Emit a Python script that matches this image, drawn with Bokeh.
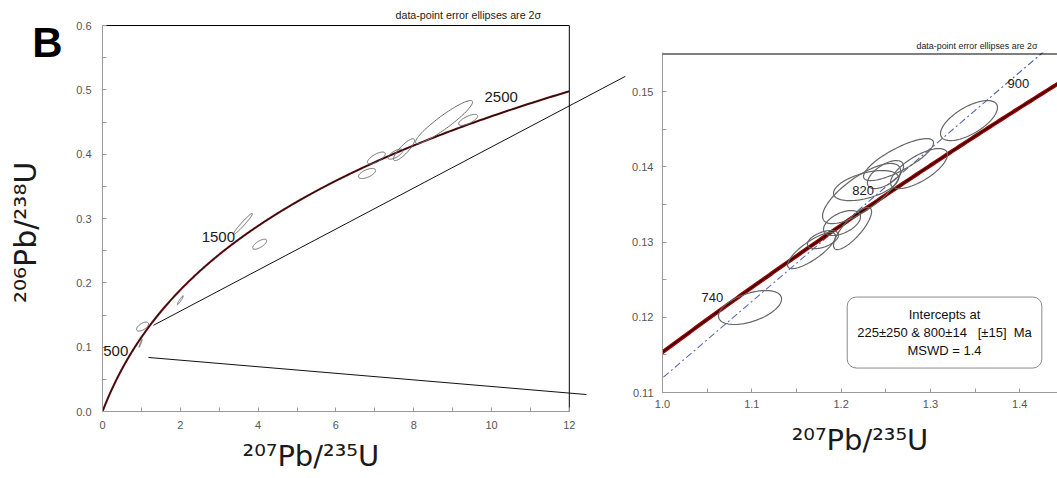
import numpy as np
from bokeh.plotting import figure
from bokeh.layouts import row, column
from bokeh.models import FixedTicker, Label, NumeralTickFormatter, Range1d, Span, LinearAxis, Title
from bokeh.embed import file_html
from bokeh.resources import INLINE

FONT = "Liberation Sans"
LABEL_FONT = "DejaVu Sans"

# decay constants (1/Ma) used for the concordia curve
LAMBDA_235 = 9.8485e-4
LAMBDA_238 = 1.55125e-4

# ---------------- left panel data (2-sigma error ellipses) ----------------
left_x = [0.98, 1.03, 2.00, 3.61, 4.04, 6.80, 7.04, 7.53, 7.75, 8.78, 9.40]
left_y = [0.106, 0.132, 0.173, 0.2916, 0.260, 0.370, 0.394, 0.400, 0.407, 0.450, 0.4533]
left_ex = [0.04, 0.154, 0.077, 0.244, 0.18, 0.22, 0.23, 0.19, 0.27, 0.733, 0.244]
left_ey = [0.0062, 0.007, 0.007, 0.0163, 0.0078, 0.0078, 0.0093, 0.0078, 0.017, 0.0334, 0.0086]
left_rho = [0.95, 0.6, 0.95, 0.97, 0.7, 0.6, 0.7, 0.7, 0.85, 0.93, 0.7]
left_age_labels = [500, 1500, 2500]
# lines linking the left panel to the enlarged panel
zoom_line_x = [[1.31, 13.44], [1.18, 12.44]]
zoom_line_y = [[0.134, 0.521], [0.084, 0.0264]]

# ---------------- right panel data ----------------
right_x = [1.098, 1.2643, 1.2872, 1.3432, 1.2229, 1.2279, 1.2497, 1.201, 1.2128, 1.1797, 1.1669]
right_y = [0.1213, 0.14096, 0.13977, 0.14615, 0.13645, 0.13751, 0.13897, 0.13253, 0.1318, 0.13033, 0.12887]
right_ex = [0.0353, 0.0392, 0.0319, 0.0319, 0.0437, 0.0364, 0.0202, 0.0207, 0.0213, 0.0174, 0.0269]
right_ey = [0.00226, 0.00279, 0.00266, 0.00266, 0.0040, 0.0020, 0.00186, 0.00166, 0.0028, 0.0012, 0.0024]
right_rho = [0.5, 0.8, 0.7, 0.65, 0.75, 0.5, 0.6, 0.5, 0.8, 0.5, 0.8]
right_age_labels = [740, 820, 900]
lower_intercept = 225
upper_intercept = 800
NB = "\u00a0"
intercept_text = ("Intercepts at\n225\u00b1250 & 800\u00b114" + NB * 3 + "[\u00b115]" + NB * 2
                  + "Ma\nMSWD = 1.4")

left_xticks = [0, 2, 4, 6, 8, 10, 12]
left_xminor = [1, 3, 5, 7, 9, 11]
left_yticks = [0.0, 0.1, 0.2, 0.3, 0.4, 0.5, 0.6]
left_yminor = [0.05, 0.15, 0.25, 0.35, 0.45, 0.55]
right_xticks = [1.0, 1.1, 1.2, 1.3, 1.4]
right_xminor = [1.05, 1.15, 1.25, 1.35]
right_yticks = [0.11, 0.12, 0.13, 0.14, 0.15]
right_yminor = [0.115, 0.125, 0.135, 0.145]

XLABEL = "\u00b2\u2070\u2077Pb/\u00b2\u00b3\u2075U"
YLABEL = "\u00b2\u2070\u2076Pb/\u00b2\u00b3\u2078U"
NOTE = "data-point" + NB + "error" + NB + "ellipses" + NB + "are" + NB + "2\u03c3"
PANEL_LETTER = "B"


def concordia(t):
    t = np.asarray(t, dtype=float)
    return np.exp(LAMBDA_235 * t) - 1.0, np.exp(LAMBDA_238 * t) - 1.0


def ellipse(cx, cy, ex, ey, rho, n=90):
    a = np.linspace(0, 2 * np.pi, n)
    xs = cx + ex * np.cos(a)
    ys = cy + ey * (rho * np.cos(a) + np.sqrt(1 - rho ** 2) * np.sin(a))
    return list(xs), list(ys)


def style_axis(ax, ticks, minor, fmt, standoff):
    ax.ticker = FixedTicker(ticks=ticks, minor_ticks=minor)
    if fmt:
        ax.formatter = NumeralTickFormatter(format=fmt)
    ax.axis_line_color = "#9a9a9a"
    ax.major_tick_line_color = "#9a9a9a"
    ax.minor_tick_line_color = "#9a9a9a"
    ax.major_tick_in = 4
    ax.major_tick_out = 0
    ax.minor_tick_in = 4
    ax.minor_tick_out = 0
    ax.major_label_text_font = FONT
    ax.major_label_text_font_size = "11px"
    ax.major_label_text_color = "#555555"
    ax.major_label_standoff = standoff
    ax.axis_label_text_font = LABEL_FONT
    ax.axis_label_text_font_style = "normal"
    ax.axis_label_text_color = "#1a1a1a"
    ax.axis_label_text_font_size = "30px"


# ======================= LEFT FIGURE =======================
pL = figure(width=626, height=478, x_range=Range1d(0, 13.47), y_range=Range1d(0, 0.6016),
            output_backend="svg", toolbar_location=None, title=None,
            min_border_left=102, min_border_right=0, min_border_top=24, min_border_bottom=67)
pL.outline_line_color = None
pL.grid.visible = False
pL.background_fill_color = "white"
pL.border_fill_color = "white"

style_axis(pL.xaxis[0], left_xticks, left_xminor, None, 9)
style_axis(pL.yaxis[0], left_yticks, left_yminor, "0.0", 11)
pL.xaxis[0].bounds = (0, 12)
pL.yaxis[0].bounds = (0, 0.6)

# outer left axis: carries the panel letter and the y-axis title
outer = LinearAxis(ticker=FixedTicker(ticks=[0.573], minor_ticks=[]),
                   major_label_overrides={0.573: PANEL_LETTER})
outer.axis_line_color = None
outer.major_tick_line_color = None
outer.minor_tick_line_color = None
outer.major_label_text_font = FONT
outer.major_label_text_font_style = "bold"
outer.major_label_text_font_size = "42px"
outer.major_label_text_color = "black"
outer.major_label_standoff = 5
outer.axis_label = YLABEL + NB * 3
outer.axis_label_standoff = -14
outer.axis_label_text_font = LABEL_FONT
outer.axis_label_text_font_style = "normal"
outer.axis_label_text_color = "#1a1a1a"
outer.axis_label_text_font_size = "30px"
pL.add_layout(outer, "left")

pL.add_layout(Title(text=XLABEL, align="left", offset=140, standoff=11,
                    text_font=LABEL_FONT, text_font_style="normal", text_font_size="29px",
                    text_color="#1a1a1a"), "below")
pL.add_layout(Title(text=NOTE, align="left", offset=293, standoff=8,
                    text_font=FONT, text_font_style="normal", text_font_size="10.7px",
                    text_color="#222222"), "above")

# box top and right
pL.line(x=[0, 12, 12], y=[0.6, 0.6, 0], line_color="black", line_width=1)

# connecting lines
pL.multi_line(xs=zoom_line_x, ys=zoom_line_y, line_color="#111111", line_width=1)

# concordia curve up to x = 12
t_end = np.log(1 + 12.0) / LAMBDA_235
cx, cy = concordia(np.linspace(0, t_end, 400))
pL.line(cx, cy, line_color="#7a1515", line_width=2.1)
pL.line(cx, cy, line_color="#111111", line_width=1.0)

# ellipses
exs, eys = [], []
for i in range(len(left_x)):
    a, b = ellipse(left_x[i], left_y[i], left_ex[i], left_ey[i], left_rho[i])
    exs.append(a)
    eys.append(b)
pL.patches(xs=exs, ys=eys, fill_color=None, line_color="#6a6a6a", line_width=1)

# age labels
l_off = {500: (1, 9), 1500: (1, 6), 2500: (-2, 10)}
for age in left_age_labels:
    ax_, ay_ = concordia(age)
    dx, dy = l_off[age]
    pL.add_layout(Label(x=float(ax_), y=float(ay_), text=str(age), text_align="right",
                        text_baseline="middle", x_offset=dx, y_offset=dy,
                        text_font=FONT, text_font_size="15px", text_color="#1a1a1a"))

# ======================= RIGHT FIGURE =======================
pR = figure(width=431, height=478, x_range=Range1d(1.0, 1.4423), y_range=Range1d(0.11, 0.1552),
            output_backend="svg", toolbar_location=None, title=None,
            min_border_left=36, min_border_right=0, min_border_top=52, min_border_bottom=86)
pR.outline_line_color = None
pR.grid.visible = False
pR.background_fill_color = "white"
pR.border_fill_color = "white"

style_axis(pR.xaxis[0], right_xticks, right_xminor, "0.0", 7)
style_axis(pR.yaxis[0], right_yticks, right_yminor, "0.00", 9)
pR.xaxis[0].axis_label = XLABEL
pR.xaxis[0].axis_label_standoff = 12
pR.xaxis[0].axis_label_text_font_size = "29px"

pR.add_layout(Title(text=NOTE, align="left", offset=254, standoff=3,
                    text_font=FONT, text_font_style="normal", text_font_size="8.9px",
                    text_color="#222222"), "above")

pR.add_layout(Span(location=0.155, dimension="width", line_color="black", line_width=1))

# discordia through the two intercepts
ix, iy = concordia([lower_intercept, upper_intercept])
slope = (iy[1] - iy[0]) / (ix[1] - ix[0])
dxs = np.array([0.95, 1.5])
pR.line(dxs, iy[1] + slope * (dxs - ix[1]), line_color="#5868b0", line_width=1.1,
        line_dash="7 3 2 3")

# concordia in the enlarged window
rx, ry = concordia(np.linspace(690, 920, 200))
pR.line(rx, ry, line_color="#a00000", line_width=4)
pR.line(rx, ry, line_color="#2a0000", line_width=1.3)

rxs, rys = [], []
for i in range(len(right_x)):
    a, b = ellipse(right_x[i], right_y[i], right_ex[i], right_ey[i], right_rho[i])
    rxs.append(a)
    rys.append(b)
pR.patches(xs=rxs, ys=rys, fill_color=None, line_color="#666666", line_width=1.2)

r_off = {740: (-4, 7), 820: (-5, 9), 900: (-14, 9)}
for age in right_age_labels:
    ax_, ay_ = concordia(age)
    dx, dy = r_off[age]
    pR.add_layout(Label(x=float(ax_), y=float(ay_), text=str(age), text_align="right",
                        text_baseline="middle", x_offset=dx, y_offset=dy,
                        text_font=FONT, text_font_size="13px", text_color="#1a1a1a"))

pR.add_layout(Label(x=1.3158, y=0.11797, text=intercept_text, text_align="center",
                    text_baseline="middle", text_font=FONT, text_font_size="13px",
                    text_color="#111111", background_fill_color="white",
                    border_line_color="#8a8a8a", border_line_width=1, border_radius=9,
                    padding=10))

layout = row(column(pL), column(pR))
open("out.html", "w").write(file_html(layout, INLINE))
